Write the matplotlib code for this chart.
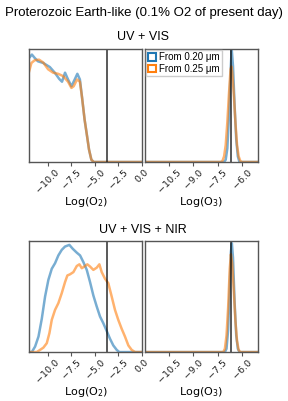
import matplotlib.pyplot as plt
from matplotlib.patches import Patch

# UV + VIS, log O2 (normalised density)
o2_vis_x_blue = [-12.0, -11.7, -11.4, -11.05, -10.5, -9.8, -9.27, -8.8, -8.5, -8.18, -7.86,
                 -7.5, -7.15, -6.87, -6.6, -6.37, -6.1, -5.84, -5.63, -5.38, -5.13, 0.0]
o2_vis_y_blue = [0.92, 0.95, 0.92, 0.89, 0.876, 0.84, 0.79, 0.735, 0.71, 0.79, 0.73,
                 0.67, 0.73, 0.78, 0.73, 0.57, 0.375, 0.23, 0.11, 0.02, 0.0, 0.0]
o2_vis_x_orange = [-12.0, -11.75, -11.4, -10.94, -10.5, -9.98, -9.45, -8.92, -8.39, -7.86,
                   -7.5, -7.26, -6.9, -6.6, -6.37, -6.1, -5.84, -5.63, -5.38, -5.13, 0.0]
o2_vis_y_orange = [0.80, 0.876, 0.90, 0.905, 0.88, 0.82, 0.79, 0.78, 0.76, 0.71,
                   0.655, 0.67, 0.73, 0.71, 0.57, 0.375, 0.23, 0.11, 0.02, 0.0, 0.0]

# UV + VIS, log O3
o3_vis_x_blue = [-12.0, -7.1, -7.0, -6.9, -6.8, -6.7, -6.63, -6.55, -6.45, -6.35, -6.25, -6.15, -5.0]
o3_vis_y_blue = [0.0, 0.0, 0.02, 0.12, 0.4, 0.8, 1.0, 0.85, 0.5, 0.2, 0.05, 0.0, 0.0]
o3_vis_x_orange = [-12.0, -7.3, -7.2, -7.1, -7.0, -6.9, -6.8, -6.7, -6.65, -6.6, -6.5,
                   -6.4, -6.3, -6.2, -6.1, -6.0, -5.0]
o3_vis_y_orange = [0.0, 0.0, 0.01, 0.05, 0.15, 0.35, 0.6, 0.82, 0.845, 0.8, 0.6,
                   0.35, 0.15, 0.05, 0.01, 0.0, 0.0]

# UV + VIS + NIR, log O2
o2_nir_x_blue = [-12.0, -11.71, -11.36, -11.0, -10.65, -10.3, -9.95, -9.59, -9.24, -8.89, -8.53,
                 -8.18, -7.72, -7.36, -6.93, -6.58, -6.23, -5.87, -5.52, -5.17, -4.81, -4.46,
                 -4.11, -3.75, -3.40, -3.05, -2.69, -2.41, 0.0]
o2_nir_y_blue = [0.0, 0.0, 0.05, 0.14, 0.30, 0.50, 0.65, 0.75, 0.80, 0.87, 0.92,
                 0.95, 0.965, 0.93, 0.895, 0.87, 0.81, 0.74, 0.63, 0.51, 0.41, 0.32,
                 0.26, 0.19, 0.12, 0.06, 0.02, 0.0, 0.0]
o2_nir_x_orange = [-12.0, -11.18, -10.83, -10.48, -10.12, -9.84, -9.59, -9.24, -8.89, -8.53,
                   -8.18, -7.93, -7.65, -7.29, -6.93, -6.65, -6.40, -6.13, -5.81, -5.52,
                   -5.17, -4.81, -4.53, -4.28, -3.93, -3.58, -3.22, -2.87, -2.52, -2.16,
                   -1.81, -1.45, -1.10, -0.74, 0.0]
o2_nir_y_orange = [0.0, 0.0, 0.02, 0.04, 0.08, 0.17, 0.29, 0.38, 0.44, 0.53,
                   0.63, 0.69, 0.70, 0.72, 0.775, 0.79, 0.755, 0.77, 0.79, 0.77,
                   0.74, 0.76, 0.79, 0.72, 0.66, 0.62, 0.50, 0.38, 0.29, 0.21,
                   0.14, 0.06, 0.02, 0.0, 0.0]

# UV + VIS + NIR, log O3
o3_nir_x_blue = [-12.0, -7.05, -6.95, -6.85, -6.75, -6.68, -6.62, -6.55, -6.45, -6.35, -6.25, -6.15, -5.0]
o3_nir_y_blue = [0.0, 0.0, 0.03, 0.2, 0.6, 0.9, 0.98, 0.85, 0.45, 0.15, 0.03, 0.0, 0.0]
o3_nir_x_orange = [-12.0, -7.15, -7.05, -6.95, -6.85, -6.75, -6.68, -6.6, -6.5, -6.4,
                   -6.3, -6.2, -6.1, -5.0]
o3_nir_y_orange = [0.0, 0.0, 0.03, 0.15, 0.4, 0.75, 0.88, 0.8, 0.55, 0.28, 0.1, 0.02, 0.0, 0.0]

true_o2 = -3.68
true_o3 = -6.68
legend_labels = ['From 0.20 μm', 'From 0.25 μm']

blue = '#1f77b4'
orange = '#ff7f0e'
spine = '#555555'
title_font = 'Liberation Sans'

fig = plt.figure(figsize=(2.88, 4.01), dpi=100)
pos = {
    'tl': [0.101, 0.596, 0.392, 0.282],
    'tr': [0.503, 0.596, 0.393, 0.282],
    'bl': [0.101, 0.122, 0.392, 0.277],
    'br': [0.503, 0.122, 0.393, 0.277],
}

panels = [
    ('tl', o2_vis_x_blue, o2_vis_y_blue, o2_vis_x_orange, o2_vis_y_orange, (-12, 0),
     [-10.0, -7.5, -5.0, -2.5, 0.0], true_o2, 'Log(O$_2$)'),
    ('tr', o3_vis_x_blue, o3_vis_y_blue, o3_vis_x_orange, o3_vis_y_orange, (-12, -5),
     [-10.5, -9.0, -7.5, -6.0], true_o3, 'Log(O$_3$)'),
    ('bl', o2_nir_x_blue, o2_nir_y_blue, o2_nir_x_orange, o2_nir_y_orange, (-12, 0),
     [-10.0, -7.5, -5.0, -2.5, 0.0], true_o2, 'Log(O$_2$)'),
    ('br', o3_nir_x_blue, o3_nir_y_blue, o3_nir_x_orange, o3_nir_y_orange, (-12, -5),
     [-10.5, -9.0, -7.5, -6.0], true_o3, 'Log(O$_3$)'),
]

for key, xb, yb, xo, yo, xlim, ticks, truth, label in panels:
    ax = fig.add_axes(pos[key])
    ax.plot(xb, yb, color=blue, alpha=0.6, lw=1.8)
    ax.plot(xo, yo, color=orange, alpha=0.6, lw=1.8)
    ax.axvline(truth, color='black', alpha=0.7, lw=1.3)
    ax.set_xlim(*xlim)
    ax.set_ylim(0, 1.0)
    ax.set_yticks([])
    ax.set_xticks(ticks)
    ax.set_xticklabels([f'{t:.1f}'.replace('-', '\u2212') for t in ticks],
                       rotation=45, fontsize=6.8)
    ax.tick_params(axis='x', colors=spine, labelcolor='#222222', length=3, width=0.8, pad=1)
    for s in ax.spines.values():
        s.set_color(spine)
        s.set_linewidth(1.0)
    ax.set_xlabel(label, fontsize=8, labelpad=0.5)
    if key == 'tr':
        handles = [Patch(facecolor='white', edgecolor=blue, lw=1.5),
                   Patch(facecolor='white', edgecolor=orange, lw=1.5)]
        ax.legend(handles, legend_labels, loc='upper left',
                  prop={'family': title_font, 'size': 7},
                  handlelength=0.8, handleheight=0.8, handletextpad=0.3,
                  borderpad=0.2, borderaxespad=0.15, labelspacing=0.15,
                  fancybox=False, framealpha=1.0, edgecolor='#cccccc')

fig.text(0.5, 0.968, 'Proterozoic Earth-like (0.1% O2 of present day)',
         ha='center', va='center', fontsize=9.5, family=title_font)
fig.text(0.495, 0.908, 'UV + VIS', ha='center', va='center', fontsize=9, family=title_font)
fig.text(0.495, 0.427, 'UV + VIS + NIR', ha='center', va='center', fontsize=9, family=title_font)

fig.savefig('out.png', dpi=100)
